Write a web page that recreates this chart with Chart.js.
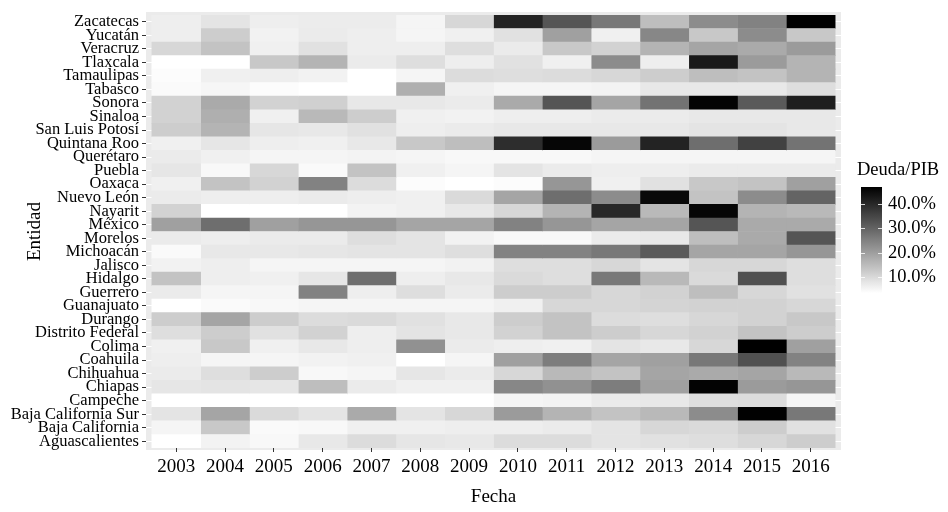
<!DOCTYPE html>
<html><head><meta charset="utf-8">
<script src="https://cdn.jsdelivr.net/npm/chart.js@4/dist/chart.umd.min.js"></script>
<style>html,body{margin:0;padding:0;background:#fff}#wrap{width:948px;height:512px;position:relative}</style>
</head><body><div id="wrap"><canvas id="c"></canvas></div>
<script>
const years = ['2003','2004','2005','2006','2007','2008','2009','2010','2011','2012','2013','2014','2015','2016'];
const entidades = ['Zacatecas','Yucatán','Veracruz','Tlaxcala','Tamaulipas','Tabasco','Sonora','Sinaloa','San Luis Potosí','Quintana Roo','Querétaro','Puebla','Oaxaca','Nuevo León','Nayarit','México','Morelos','Michoacán','Jalisco','Hidalgo','Guerrero','Guanajuato','Durango','Distrito Federal','Colima','Coahuila','Chihuahua','Chiapas','Campeche','Baja California Sur','Baja California','Aguascalientes'];

// Deuda/PIB (%) por entidad, 2003..2016
const zacatecas      = [6.4, 8.1, 6.4, 6.7, 6.7, 5.2, 10.3, 41.0, 32.5, 26.5, 14.6, 23.1, 24.8, 47.0];
const yucatan        = [6.4, 12.0, 5.7, 6.9, 6.4, 5.2, 6.1, 8.6, 19.7, 6.1, 24.0, 12.9, 23.1, 12.9];
const veracruz       = [10.3, 13.7, 6.1, 8.6, 6.4, 6.4, 9.1, 6.9, 12.9, 11.2, 16.3, 18.9, 18.0, 20.6];
const tlaxcala       = [3.5, 3.5, 12.9, 16.3, 6.9, 9.1, 6.4, 8.6, 6.1, 23.1, 6.4, 42.7, 20.6, 16.3];
const tamaulipas     = [4.0, 6.1, 6.4, 5.7, 3.5, 5.2, 9.5, 9.1, 9.5, 10.3, 12.0, 14.6, 13.7, 16.3];
const tabasco        = [4.4, 5.0, 4.0, 3.5, 3.5, 17.1, 6.1, 5.2, 5.2, 5.5, 7.4, 7.4, 7.4, 9.1];
const sonora         = [11.2, 18.0, 11.2, 11.5, 7.4, 7.4, 6.9, 18.0, 32.5, 18.9, 27.4, 46.5, 31.7, 41.9];
const sinaloa        = [11.2, 17.1, 6.1, 15.4, 12.0, 6.1, 5.7, 6.4, 6.4, 6.9, 6.9, 7.4, 7.4, 7.4];
const sanLuisPotosi  = [12.0, 16.3, 7.8, 7.4, 8.6, 6.4, 6.9, 7.4, 7.4, 7.4, 7.4, 8.1, 8.1, 7.4];
const quintanaRoo    = [6.1, 7.8, 6.4, 6.1, 7.4, 12.9, 14.6, 39.3, 46.0, 20.6, 41.0, 28.2, 35.9, 27.4];
const queretaro      = [6.9, 6.1, 5.2, 5.2, 5.5, 5.2, 4.7, 4.7, 4.7, 5.2, 5.2, 5.2, 5.2, 5.2];
const puebla         = [7.8, 4.7, 10.3, 4.4, 13.7, 6.1, 5.2, 8.1, 6.9, 6.4, 6.4, 6.9, 6.9, 6.9];
const oaxaca         = [6.1, 13.7, 11.2, 24.8, 9.5, 4.0, 3.5, 4.0, 21.4, 6.1, 8.6, 12.9, 13.7, 19.7];
const nuevoLeon      = [6.9, 6.4, 6.4, 6.9, 6.4, 6.1, 9.8, 18.9, 28.2, 23.1, 45.5, 13.7, 23.1, 29.9];
const nayarit        = [11.2, 3.5, 3.5, 3.5, 5.5, 6.1, 7.4, 10.3, 16.3, 40.2, 15.4, 46.0, 16.3, 15.4];
const mexico         = [19.7, 28.2, 19.7, 21.4, 21.4, 18.9, 18.9, 24.8, 21.4, 18.9, 18.9, 32.5, 18.0, 18.0];
const morelos        = [6.9, 6.4, 6.9, 6.9, 9.1, 8.1, 5.7, 4.7, 4.7, 6.9, 7.4, 14.6, 18.0, 32.5];
const michoacan      = [4.4, 7.4, 7.4, 7.8, 8.1, 8.1, 9.1, 24.8, 24.8, 26.5, 31.7, 18.9, 18.9, 21.4];
const jalisco        = [5.7, 6.4, 5.2, 5.2, 5.2, 5.2, 5.7, 9.1, 9.1, 10.3, 8.1, 10.3, 10.3, 9.1];
const hidalgo        = [13.7, 6.4, 6.1, 7.8, 28.2, 6.4, 7.4, 9.8, 9.1, 26.5, 15.4, 9.8, 33.4, 9.1];
const guerrero       = [6.9, 5.2, 5.2, 24.8, 6.4, 9.1, 6.9, 12.0, 12.0, 10.3, 11.2, 14.6, 10.3, 8.6];
const guanajuato     = [3.5, 4.4, 4.7, 5.2, 5.2, 5.2, 5.2, 6.1, 10.3, 10.3, 10.8, 11.2, 11.2, 10.3];
const durango        = [12.0, 18.9, 12.0, 9.5, 9.8, 8.6, 7.4, 12.0, 13.7, 9.5, 9.1, 10.3, 11.2, 12.9];
const distritoFederal= [9.1, 12.0, 8.6, 11.2, 6.4, 8.1, 7.4, 11.2, 13.7, 12.0, 10.3, 11.2, 13.7, 12.0];
const colima         = [6.1, 12.9, 6.1, 7.4, 6.4, 22.3, 6.9, 6.4, 6.1, 8.1, 7.4, 10.3, 47.0, 19.7];
const coahuila       = [6.4, 5.2, 5.2, 5.7, 6.1, 3.5, 5.2, 19.7, 25.7, 18.9, 19.7, 26.5, 33.4, 24.8];
const chihuahua      = [6.9, 9.1, 12.0, 4.7, 5.2, 7.8, 6.9, 10.3, 15.4, 13.7, 18.9, 18.0, 18.9, 15.4];
const chiapas        = [7.8, 8.1, 7.8, 14.6, 6.9, 6.1, 6.1, 24.0, 22.3, 25.7, 19.7, 46.5, 20.6, 21.4];
const campeche       = [3.5, 3.5, 3.5, 3.5, 3.5, 3.5, 3.5, 5.2, 5.5, 6.9, 7.4, 9.1, 9.5, 5.2];
const bajaCaliforniaSur = [8.1, 18.9, 9.8, 8.1, 18.0, 8.1, 10.3, 20.6, 16.3, 13.7, 15.4, 23.1, 46.8, 26.5];
const bajaCalifornia = [5.2, 12.9, 4.4, 4.7, 6.1, 6.1, 6.4, 6.4, 6.9, 8.1, 10.3, 9.8, 12.0, 8.6];
const aguascalientes = [3.5, 5.5, 4.7, 7.4, 9.5, 7.8, 7.4, 9.5, 9.5, 8.1, 8.6, 9.1, 10.3, 12.0];

const rows = [zacatecas, yucatan, veracruz, tlaxcala, tamaulipas, tabasco, sonora, sinaloa, sanLuisPotosi, quintanaRoo, queretaro, puebla, oaxaca, nuevoLeon, nayarit, mexico, morelos, michoacan, jalisco, hidalgo, guerrero, guanajuato, durango, distritoFederal, colima, coahuila, chihuahua, chiapas, campeche, bajaCaliforniaSur, bajaCalifornia, aguascalientes];
const legendTicks = [10, 20, 30, 40];
const legendTitle = 'Deuda/PIB';

const FONT = "'Liberation Serif', 'DejaVu Serif', serif";
const allVals = rows.flat();
const vmin = Math.min(...allVals), vmax = Math.max(...allVals);
function shade(v){
  const t = (v - vmin) / (vmax - vmin);
  const g = Math.round(255 * (1 - t));
  return `rgb(${g},${g},${g})`;
}

const datasets = years.map((yr, j) => ({
  label: yr,
  data: entidades.map(() => 1),
  backgroundColor: rows.map(r => shade(r[j])),
  borderWidth: 0,
  barPercentage: 1,
  categoryPercentage: 1
}));

const panelBg = {
  id: 'panelBg',
  beforeDraw(chart){
    const {ctx, chartArea: a} = chart;
    ctx.save();
    ctx.fillStyle = '#EBEBEB';
    ctx.fillRect(a.left, a.top - 3, a.right - a.left, a.bottom - a.top + 5);
    ctx.restore();
  }
};

const colorbar = {
  id: 'colorbar',
  afterDraw(chart){
    const ctx = chart.ctx;
    const x = 861, w = 21, top = 187, bot = 293;
    const grad = ctx.createLinearGradient(0, bot, 0, top);
    for (let k = 0; k <= 20; k++){
      grad.addColorStop(k / 20, shade(vmin + (vmax - vmin) * k / 20));
    }
    ctx.save();
    ctx.fillStyle = grad;
    ctx.fillRect(x, top, w, bot - top);
    ctx.font = `18.5px ${FONT}`;
    ctx.fillStyle = '#000';
    ctx.textBaseline = 'middle';
    ctx.textAlign = 'left';
    legendTicks.forEach(t => {
      const y = Math.round(bot - (t - vmin) / (vmax - vmin) * (bot - top)) + 0.5;
      ctx.strokeStyle = 'rgba(255,255,255,0.8)';
      ctx.lineWidth = 1;
      ctx.beginPath();
      ctx.moveTo(x, y); ctx.lineTo(x + 4, y);
      ctx.moveTo(x + w - 4, y); ctx.lineTo(x + w, y);
      ctx.stroke();
      ctx.fillText(t.toFixed(1) + '%', x + 27, y);
    });
    ctx.fillText(legendTitle, 857, 170);
    ctx.restore();
  }
};

new Chart(document.getElementById('c'), {
  type: 'bar',
  data: { labels: entidades, datasets },
  plugins: [panelBg, colorbar],
  options: {
    indexAxis: 'y',
    responsive: true,
    maintainAspectRatio: false,
    animation: false,
    layout: { padding: { top: 15, right: 107, bottom: 0, left: 0 } },
    plugins: { legend: { display: false }, tooltip: { enabled: false } },
    scales: {
      x: {
        type: 'linear', stacked: true,
        min: -0.12, max: years.length + 0.12,
        afterBuildTicks(s){ s.ticks = years.map((y, i) => ({ value: i + 0.5 })); },
        ticks: {
          callback: (v, i) => years[i],
          font: { family: FONT, size: 19 }, color: '#000',
          padding: 4, maxRotation: 0, autoSkip: false
        },
        grid: { drawOnChartArea: false, tickLength: 4, tickColor: '#333', tickWidth: 1 },
        border: { display: false },
        title: { display: true, text: 'Fecha', font: { family: FONT, size: 19 }, color: '#000', padding: { top: 0, bottom: 4 } },
        afterFit(s){ s.height = 64; }
      },
      y: {
        type: 'category', stacked: true, offset: true,
        ticks: { font: { family: FONT, size: 16.5 }, color: '#000', padding: 3, autoSkip: false },
        grid: { color: '#fff', lineWidth: 1, tickColor: '#333', tickLength: 4, offset: false },
        border: { display: false },
        title: { display: true, text: 'Entidad', font: { family: FONT, size: 19 }, color: '#000', padding: { top: 24, bottom: 0 } },
        afterFit(s){ s.width = 146; }
      }
    }
  }
});
</script>
</body></html>
